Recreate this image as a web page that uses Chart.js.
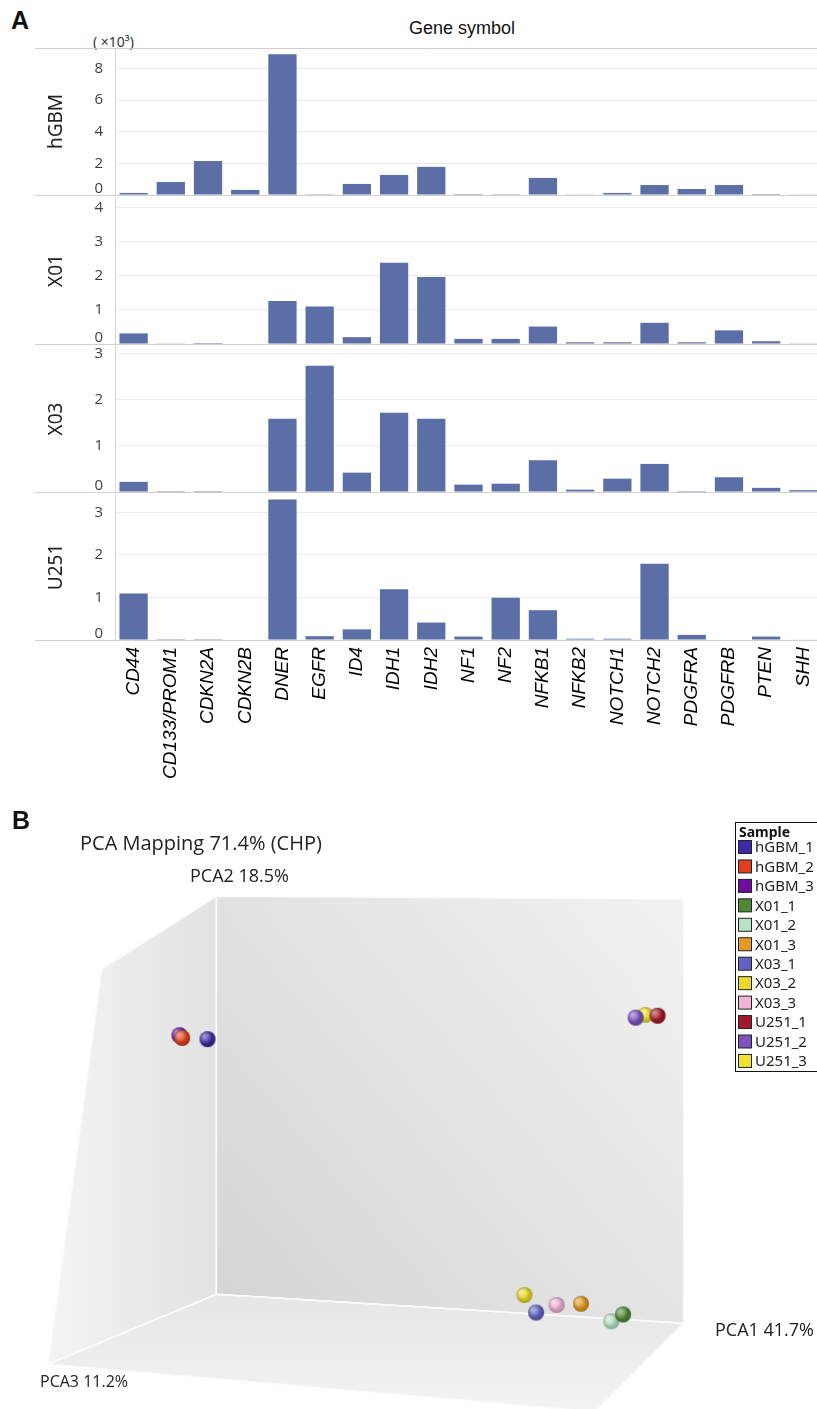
<!DOCTYPE html>
<html>
<head>
<meta charset="utf-8">
<title>Gene expression and PCA mapping</title>
<script src="https://cdn.jsdelivr.net/npm/chart.js@4.4.1/dist/chart.umd.min.js"></script>
<style>
  body { margin: 0; width: 817px; height: 1409px; overflow: hidden; background: #fff; position: relative; }
  canvas { position: absolute; left: 0; }
  .txt { position: absolute; white-space: nowrap; color: #111; line-height: 1; }
</style>
</head>
<body>
<div class="txt" style="left:11px;top:6px;font:bold 25px 'Liberation Sans',Arial,sans-serif;">A</div>
<div class="txt" style="left:93px;top:32px;font:14px 'Noto Sans',sans-serif;color:#333;">( ×10³)</div>
<div class="txt" style="left:409px;top:18px;font:18px 'Liberation Sans',Arial,sans-serif;">Gene symbol</div>

<canvas id="c0"></canvas>
<canvas id="c1"></canvas>
<canvas id="c2"></canvas>
<canvas id="c3"></canvas>

<canvas id="pca" width="817" height="609" style="top:800px;"></canvas>
<div class="txt" style="left:12px;top:806px;font:bold 25px 'Liberation Sans',Arial,sans-serif;">B</div>
<div class="txt" style="left:80px;top:829px;font:20px 'Open Sans',sans-serif;color:#222;">PCA Mapping 71.4% (CHP)</div>
<div class="txt" style="left:190px;top:863px;font:18px 'Open Sans',sans-serif;color:#222;">PCA2 18.5%</div>
<div class="txt" style="left:715px;top:1317px;font:18px 'Open Sans',sans-serif;color:#222;">PCA1 41.7%</div>
<div class="txt" style="left:40px;top:1370px;font:16px 'Open Sans',sans-serif;color:#222;">PCA3 11.2%</div>

<script>
// ---- panel A data (values x10^3) ----
var genes = ['CD44', 'CD133/PROM1', 'CDKN2A', 'CDKN2B', 'DNER', 'EGFR', 'ID4', 'IDH1', 'IDH2', 'NF1',
             'NF2', 'NFKB1', 'NFKB2', 'NOTCH1', 'NOTCH2', 'PDGFRA', 'PDGFRB', 'PTEN', 'SHH'];
var hGBM = [0.13, 0.82, 2.15, 0.32, 8.9, 0.05, 0.70, 1.27, 1.78, 0.06, 0.05, 1.08, 0.02, 0.13, 0.63, 0.38, 0.63, 0.06, 0.02];
var X01  = [0.31, 0.02, 0.03, 0, 1.26, 1.10, 0.20, 2.38, 1.96, 0.15, 0.15, 0.51, 0.05, 0.05, 0.62, 0.05, 0.40, 0.08, 0.02];
var X03  = [0.22, 0.02, 0.02, 0, 1.59, 2.74, 0.42, 1.72, 1.59, 0.16, 0.18, 0.69, 0.05, 0.29, 0.61, 0.02, 0.32, 0.09, 0.04];
var U251 = [1.09, 0.02, 0.02, 0, 3.30, 0.09, 0.25, 1.19, 0.41, 0.08, 0.99, 0.70, 0.03, 0.03, 1.79, 0.12, 0, 0.08, 0.01];
var panelNames = ['hGBM', 'X01', 'X03', 'U251'];
var panelMax = [9.3, 4.3, 3.17, 3.43];
var panelStep = [2, 1, 1, 1];

// ---- panel B data (projected PCA positions, box units) ----
var samples = ['hGBM_1', 'hGBM_2', 'hGBM_3', 'X01_1', 'X01_2', 'X01_3', 'X03_1', 'X03_2', 'X03_3', 'U251_1', 'U251_2', 'U251_3'];
var sampleColors = ['#3b2aa5', '#e0401e', '#6a0da0', '#4e8a35', '#b6e3c4', '#e39b26', '#6262c2', '#ecd92a', '#f1b5d4', '#a3172a', '#7b52c0', '#eee42a'];
var pcaX = [-1.9, -7.3, -7.9, 87.0, 84.5, 78.0, 68.4, 65.9, 72.8, 94.4, 89.7, 91.8];
var pcaY = [64.1, 64.4, 65.1, -5.1, -6.8, -2.4, -4.6, -0.2, -2.7, 70.0, 69.5, 70.2];

var barColor = '#5b6ea6';
var tickFont = { family: "'Open Sans', sans-serif", size: 15 };
var panelTop = [48, 197, 346, 494];
var panelH = [147, 147, 146, 146];
var series = [hGBM, X01, X03, U251];

var panelDeco = {
  id: 'panelDeco',
  afterDraw: function (chart) {
    var ctx = chart.ctx, a = chart.chartArea, y = chart.scales.y;
    var idx = chart.options.plugins.panelDeco.idx;
    var y0 = Math.round(y.getPixelForValue(0)) + 0.5;
    ctx.save();
    ctx.strokeStyle = '#cfcfcf';
    ctx.lineWidth = 1;
    ctx.beginPath();
    ctx.moveTo(35, y0); ctx.lineTo(a.right, y0);
    if (idx === 0) { ctx.moveTo(35, a.top + 0.5); ctx.lineTo(a.right, a.top + 0.5); }
    ctx.stroke();
    // zero label sits just above the baseline
    ctx.fillStyle = '#404040';
    ctx.font = "15px 'Open Sans', sans-serif";
    ctx.textAlign = 'right';
    ctx.textBaseline = 'middle';
    ctx.fillText('0', a.left - 12, y0 - 7);
    // panel name
    ctx.translate(57, (a.top + a.bottom) / 2);
    ctx.rotate(-Math.PI / 2);
    ctx.textAlign = 'center';
    ctx.fillStyle = '#222';
    ctx.font = "19px 'Noto Sans', sans-serif";
    ctx.fillText(panelNames[idx], 0, 0);
    ctx.restore();
  }
};

function makePanel(i) {
  var last = i === 3;
  var cv = document.getElementById('c' + i);
  cv.width = 822;
  cv.height = panelH[i] + 10 + (last ? 170 : 10);
  cv.style.top = (panelTop[i] - 10) + 'px';
  var xAxis = {
    display: last,
    grid: { display: false, drawTicks: false },
    border: { display: false },
    ticks: {
      autoSkip: false, minRotation: 90, maxRotation: 90, padding: 7, color: '#000',
      font: { family: "'Liberation Sans', Arial, sans-serif", style: 'italic', size: 19 }
    }
  };
  if (last) {
    xAxis.afterFit = function (s) { s.height = 170; s.paddingLeft = 0; s.paddingRight = 0; };
  }
  new Chart(cv, {
    type: 'bar',
    data: {
      labels: genes,
      datasets: [{
        label: panelNames[i],
        data: series[i],
        backgroundColor: barColor,
        categoryPercentage: 1,
        barPercentage: 0.76
      }]
    },
    options: {
      responsive: false,
      animation: false,
      devicePixelRatio: 1,
      layout: { padding: { top: 10, bottom: last ? 0 : 10, left: 0, right: 0 } },
      plugins: { legend: { display: false }, tooltip: { enabled: false }, panelDeco: { idx: i } },
      scales: {
        x: xAxis,
        y: {
          min: 0,
          max: panelMax[i],
          ticks: {
            stepSize: panelStep[i], includeBounds: false, padding: 12, color: '#404040', font: tickFont,
            callback: function (v) { return v === 0 ? '' : v; }
          },
          grid: { color: '#ececec', drawTicks: false },
          border: { display: true, color: '#d6d6d6' },
          afterFit: function (s) { s.width = 115; s.paddingTop = 0; s.paddingBottom = 0; }
        }
      }
    },
    plugins: [panelDeco]
  });
}
for (var i = 0; i < 4; i++) makePanel(i);

// ---- panel B ----
function sphere(color) {
  var r = 8, c = document.createElement('canvas');
  c.width = c.height = 2 * r + 2;
  var g = c.getContext('2d'), m = r + 1;
  g.fillStyle = color;
  g.beginPath(); g.arc(m, m, r, 0, Math.PI * 2); g.fill();
  var hi = g.createRadialGradient(m - 3, m - 3, 0, m - 3, m - 3, r);
  hi.addColorStop(0, 'rgba(255,255,255,0.55)');
  hi.addColorStop(1, 'rgba(255,255,255,0)');
  g.fillStyle = hi;
  g.beginPath(); g.arc(m, m, r, 0, Math.PI * 2); g.fill();
  var sh = g.createRadialGradient(m - 2, m - 2, r * 0.4, m, m, r);
  sh.addColorStop(0, 'rgba(0,0,0,0)');
  sh.addColorStop(1, 'rgba(0,0,0,0.28)');
  g.fillStyle = sh;
  g.beginPath(); g.arc(m, m, r, 0, Math.PI * 2); g.fill();
  return c;
}

var pcaSets = samples.map(function (s, k) {
  return {
    label: s,
    data: [{ x: pcaX[k], y: pcaY[k] }],
    backgroundColor: sampleColors[k],
    pointStyle: sphere(sampleColors[k]),
    pointRadius: 8
  };
});

function poly(ctx, sx, sy, pts) {
  ctx.beginPath();
  pts.forEach(function (p, k) {
    var px = sx.getPixelForValue(p[0]), py = sy.getPixelForValue(p[1]);
    if (k === 0) ctx.moveTo(px, py); else ctx.lineTo(px, py);
  });
  ctx.closePath();
}

var box3d = {
  id: 'box3d',
  beforeDatasetsDraw: function (chart) {
    var ctx = chart.ctx, sx = chart.scales.x, sy = chart.scales.y;
    var back = [[0, 0], [100, -7.3], [100, 99.3], [0, 100]];
    var left = [[0, 100], [-24.5, 81.7], [-36, -17.6], [0, 0]];
    var floor = [[0, 0], [100, -7.3], [81, -29.5], [-36, -17.6]];
    ctx.save();
    var g = ctx.createLinearGradient(sx.getPixelForValue(0), sy.getPixelForValue(0), sx.getPixelForValue(100), sy.getPixelForValue(100));
    g.addColorStop(0, '#d5d5d5'); g.addColorStop(1, '#f2f2f2');
    poly(ctx, sx, sy, back); ctx.fillStyle = g; ctx.fill();
    g = ctx.createLinearGradient(sx.getPixelForValue(-36), 0, sx.getPixelForValue(0), 0);
    g.addColorStop(0, '#f4f4f4'); g.addColorStop(1, '#e2e2e2');
    poly(ctx, sx, sy, left); ctx.fillStyle = g; ctx.fill();
    g = ctx.createLinearGradient(0, sy.getPixelForValue(0), 0, sy.getPixelForValue(-29));
    g.addColorStop(0, '#e6e6e6'); g.addColorStop(1, '#f3f3f3');
    poly(ctx, sx, sy, floor); ctx.fillStyle = g; ctx.fill();
    ctx.strokeStyle = '#fbfbfb'; ctx.lineWidth = 1.5;
    [back, left, floor].forEach(function (p) { poly(ctx, sx, sy, p); ctx.stroke(); });
    ctx.restore();
  },
  afterDraw: function (chart) {
    var ctx = chart.ctx;
    ctx.save();
    ctx.fillStyle = '#fff';
    ctx.fillRect(735, 22, 90, 249);
    ctx.strokeStyle = '#111'; ctx.lineWidth = 1;
    ctx.strokeRect(735.5, 22.5, 90, 249);
    ctx.fillStyle = '#111';
    ctx.textBaseline = 'middle';
    ctx.font = "bold 14px 'Noto Sans', sans-serif";
    ctx.fillText('Sample', 739, 33);
    ctx.font = "15px 'Noto Sans', sans-serif";
    chart.data.datasets.forEach(function (d, k) {
      var cy = 47 + k * 19.45;
      ctx.fillStyle = d.backgroundColor;
      ctx.fillRect(738.5, cy - 6.5, 13, 13);
      ctx.strokeStyle = '#222';
      ctx.strokeRect(738.5, cy - 6.5, 13, 13);
      ctx.fillStyle = '#222';
      ctx.fillText(d.label, 755, cy + 1);
    });
    ctx.restore();
  }
};

new Chart(document.getElementById('pca'), {
  type: 'scatter',
  data: { datasets: pcaSets },
  options: {
    responsive: false,
    animation: false,
    devicePixelRatio: 1,
    layout: { padding: 0 },
    plugins: { legend: { display: false }, tooltip: { enabled: false } },
    scales: {
      x: { display: false, min: -44.35, max: 126.57 },
      y: { display: false, min: -26.59, max: 121.95 }
    }
  },
  plugins: [box3d]
});
</script>
</body>
</html>
